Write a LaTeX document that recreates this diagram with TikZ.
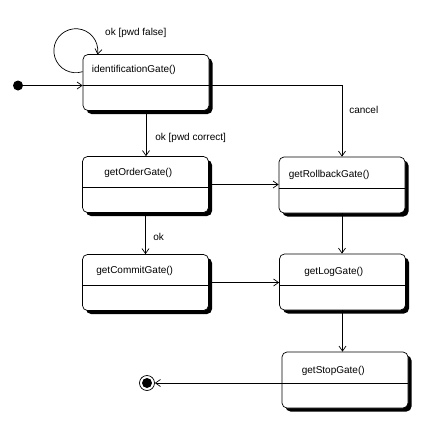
\documentclass[tikz,border=0pt]{standalone}
\usepackage{fontspec}
\setmainfont{Liberation Sans}
\usetikzlibrary{calc}
\usetikzlibrary{positioning}
\usetikzlibrary{shadows}
\usetikzlibrary{arrows.meta}

\begin{document}
\begin{tikzpicture}[x=1pt, y=1pt,
        gate/.style={draw, line width=0.7pt, rounded corners=5pt, fill=white,
            minimum width=126pt, minimum height=56pt, inner sep=0pt,
            drop shadow={shadow xshift=3.5pt, shadow yshift=-3.5pt, fill=black, opacity=1}},
        gatetext/.style={anchor=west, inner sep=0pt, font=\fontsize{10}{12}\selectfont},
        lbl/.style={anchor=west, inner sep=0pt, font=\fontsize{10}{12}\selectfont},
        trans/.style={line width=0.7pt, -{Straight Barb[length=5pt, width=7pt]}}]
    \useasboundingbox (0,0) rectangle (442,-426);

    % States, left column
    \node[gate] (identGate) at (146,-82.5) {};
    \node[gate] (orderGate) at (145.5,-184.5) {};
    \node[gate] (commitGate) at (145.5,-282.5) {};
    % States, right column
    \node[gate] (rollbackGate) at (342,-185) {};
    \node[gate] (logGate) at (342.5,-282) {};
    \node[gate] (stopGate) at (345,-380) {};

    % Compartment lines
    \foreach \g in {identGate, orderGate, commitGate, rollbackGate, logGate, stopGate} {
        \draw[line width=0.7pt] ($(\g.west)+(0,-3)$) -- ($(\g.east)+(0,-3)$);
    }

    % State names
    \node[gatetext] (identText) at ($(identGate.north west)+(9,-16)$) {identificationGate()};
    \node[gatetext] (orderText) at ($(orderGate.north west)+(22,-17)$) {getOrderGate()};
    \node[gatetext] (commitText) at ($(commitGate.north west)+(14,-17)$) {getCommitGate()};
    \node[gatetext] (rollbackText) at ($(rollbackGate.north west)+(10,-18)$) {getRollbackGate()};
    \node[gatetext] (logText) at ($(logGate.north west)+(25,-18)$) {getLogGate()};
    \node[gatetext] (stopText) at ($(stopGate.north west)+(20,-19)$) {getStopGate()};

    % Initial and final states
    \node[circle, fill, minimum size=10pt, inner sep=0pt] (initState) at (18,-85.5) {};
    \node[circle, draw, line width=0.7pt, minimum size=15pt, inner sep=0pt] (finalState) at (147,-383) {};
    \node[circle, fill, minimum size=10pt, inner sep=0pt] (finalDot) at (finalState) {};

    % Transitions
    \draw[trans] (initState) -- (initState -| identGate.west);
    \draw[trans] ($(identGate.north west)+(0,-17.5)$) arc[start angle=-72, end angle=-370, radius=22];
    \node[lbl] (falseLbl) at (105,-33) {ok [pwd false]};
    \draw[trans] (identGate.east |- initState) -| node[lbl, pos=0.67, xshift=7pt] (cancelLbl) {cancel} (rollbackGate.north);
    \draw[trans] (identGate.south) -- node[lbl, pos=0.6, xshift=9pt] (correctLbl) {ok [pwd correct]} (identGate.south |- orderGate.north);
    \draw[trans] (orderGate.south) -- node[lbl, pos=0.58, xshift=7.5pt] (okLbl) {ok} (orderGate.south |- commitGate.north);
    \draw[trans] (orderGate.east) -- (orderGate.east -| rollbackGate.west);
    \draw[trans] (commitGate.east) -- (commitGate.east -| logGate.west);
    \draw[trans] (rollbackGate.south) -- (rollbackGate.south |- logGate.north);
    \draw[trans] (logGate.south) -- (logGate.south |- stopGate.north);
    \draw[trans] (stopGate.west |- finalState) -- (finalState);

\end{tikzpicture}
\end{document}
